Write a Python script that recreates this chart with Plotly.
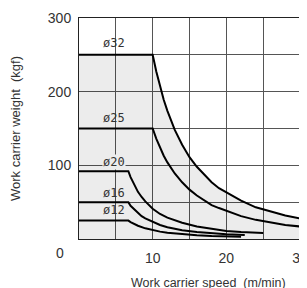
import plotly.graph_objects as go

# Speed (m/min) and weight (kgf)
x32 = [0, 10, 10.5, 11, 11.5, 12, 13, 14, 15, 16, 17, 18, 19, 20, 22, 24, 26, 28, 30]
y32 = [250, 250, 227, 207, 189, 174, 148, 128, 111, 98, 87, 77, 69, 63, 52, 43, 37, 32, 28]
x25 = [0, 10, 10.5, 11, 11.5, 12, 13, 14, 15, 16, 17, 18, 19, 20, 22, 24, 26, 28, 30]
y25 = [150, 150, 136, 124, 113, 104, 89, 77, 67, 59, 52, 46, 42, 38, 31, 26, 22, 19, 17]
x20 = [0, 6.7, 7, 7.5, 8, 8.5, 9, 10, 11, 12, 13, 14, 16, 18, 20, 22, 25]
y20 = [92, 92, 84, 73, 64, 57, 51, 41, 34, 29, 25, 22, 17, 13.5, 11, 9.5, 8]
x16 = [0, 6.7, 7, 7.5, 8, 8.5, 9, 10, 11, 12, 14, 16, 18, 20, 22.5]
y16 = [50, 50, 45, 40, 35, 31, 28, 23, 19, 16, 12, 9.5, 7.8, 6.5, 5.5]
x12 = [0, 6.7, 7, 7.5, 8, 9, 10, 11, 12, 14, 16, 18, 20, 22]
y12 = [25, 25, 23, 20.5, 18, 14.5, 12, 10, 8.5, 6.5, 5, 4, 3.3, 3]

labels = ["ø32", "ø25", "ø20", "ø16", "ø12"]
label_x = [4.7, 4.7, 4.7, 4.7, 4.7]
label_y = [266, 164, 105, 62, 39]

xtickvals = [5, 10, 15, 20, 25, 30]
xticktext = ["", "10", "", "20", "", "30"]
ytickvals = [50, 100, 150, 200, 250, 300]
yticktext = ["", "100", "", "200", "", "300"]

fig = go.Figure()
fig.add_trace(go.Scatter(x=x32, y=y32, mode="lines", fill="tozeroy",
                         fillcolor="rgba(0,0,0,0.075)",
                         line=dict(color="black", width=2),
                         showlegend=False, hoverinfo="skip"))
for xs, ys in [(x25, y25), (x20, y20), (x16, y16), (x12, y12)]:
    fig.add_trace(go.Scatter(x=xs, y=ys, mode="lines",
                             line=dict(color="black", width=2),
                             showlegend=False, hoverinfo="skip"))

for t, lx, ly in zip(labels, label_x, label_y):
    fig.add_annotation(x=lx, y=ly, text=t, showarrow=False,
                       font=dict(family="DejaVu Sans Mono", size=12, color="#333"),
                       bgcolor="#ececec" if t == "ø20" else None, borderpad=0)

fig.add_annotation(xref="paper", yref="paper", x=-0.086, y=-0.063, text="0",
                   xanchor="center", yanchor="middle",
                   showarrow=False, font=dict(family="Liberation Sans", size=14, color="#333"))
fig.add_annotation(xref="paper", yref="paper", x=0.588, y=-0.197,
                   xanchor="center", yanchor="middle",
                   text="Work carrier speed  (m/min)", showarrow=False,
                   font=dict(family="Liberation Sans Narrow, Liberation Sans", size=12.5, color="#333"))

fig.update_xaxes(range=[0, 30], tickvals=xtickvals, ticktext=xticktext,
                 showgrid=True, gridcolor="#555", gridwidth=1,
                 showline=True, linecolor="#222", linewidth=1, mirror=True,
                 ticks="outside", ticklen=6, tickcolor="rgba(0,0,0,0)",
                 ticklabeloverflow="allow",
                 tickfont=dict(family="Liberation Sans", size=14, color="#333"),
                 zeroline=False, fixedrange=True, automargin=False)
fig.update_yaxes(range=[0, 300], tickvals=ytickvals, ticktext=yticktext,
                 showgrid=True, gridcolor="#555", gridwidth=1,
                 showline=True, linecolor="#222", linewidth=1, mirror=True,
                 ticks="outside", ticklen=4, tickcolor="rgba(0,0,0,0)",
                 ticklabeloverflow="allow",
                 tickfont=dict(family="Liberation Sans", size=14, color="#333"),
                 title=dict(text="Work carrier weight  (kgf)", standoff=30,
                            font=dict(family="Liberation Sans Narrow, Liberation Sans", size=13, color="#333")),
                 zeroline=False, fixedrange=True, automargin=False)

# the page adds an 8px body margin, so the figure is sized/positioned to compensate
fig.update_layout(width=299, height=280, margin=dict(l=71, r=7, t=10, b=49),
                  plot_bgcolor="white", paper_bgcolor="white")
fig.write_html("out.html")
